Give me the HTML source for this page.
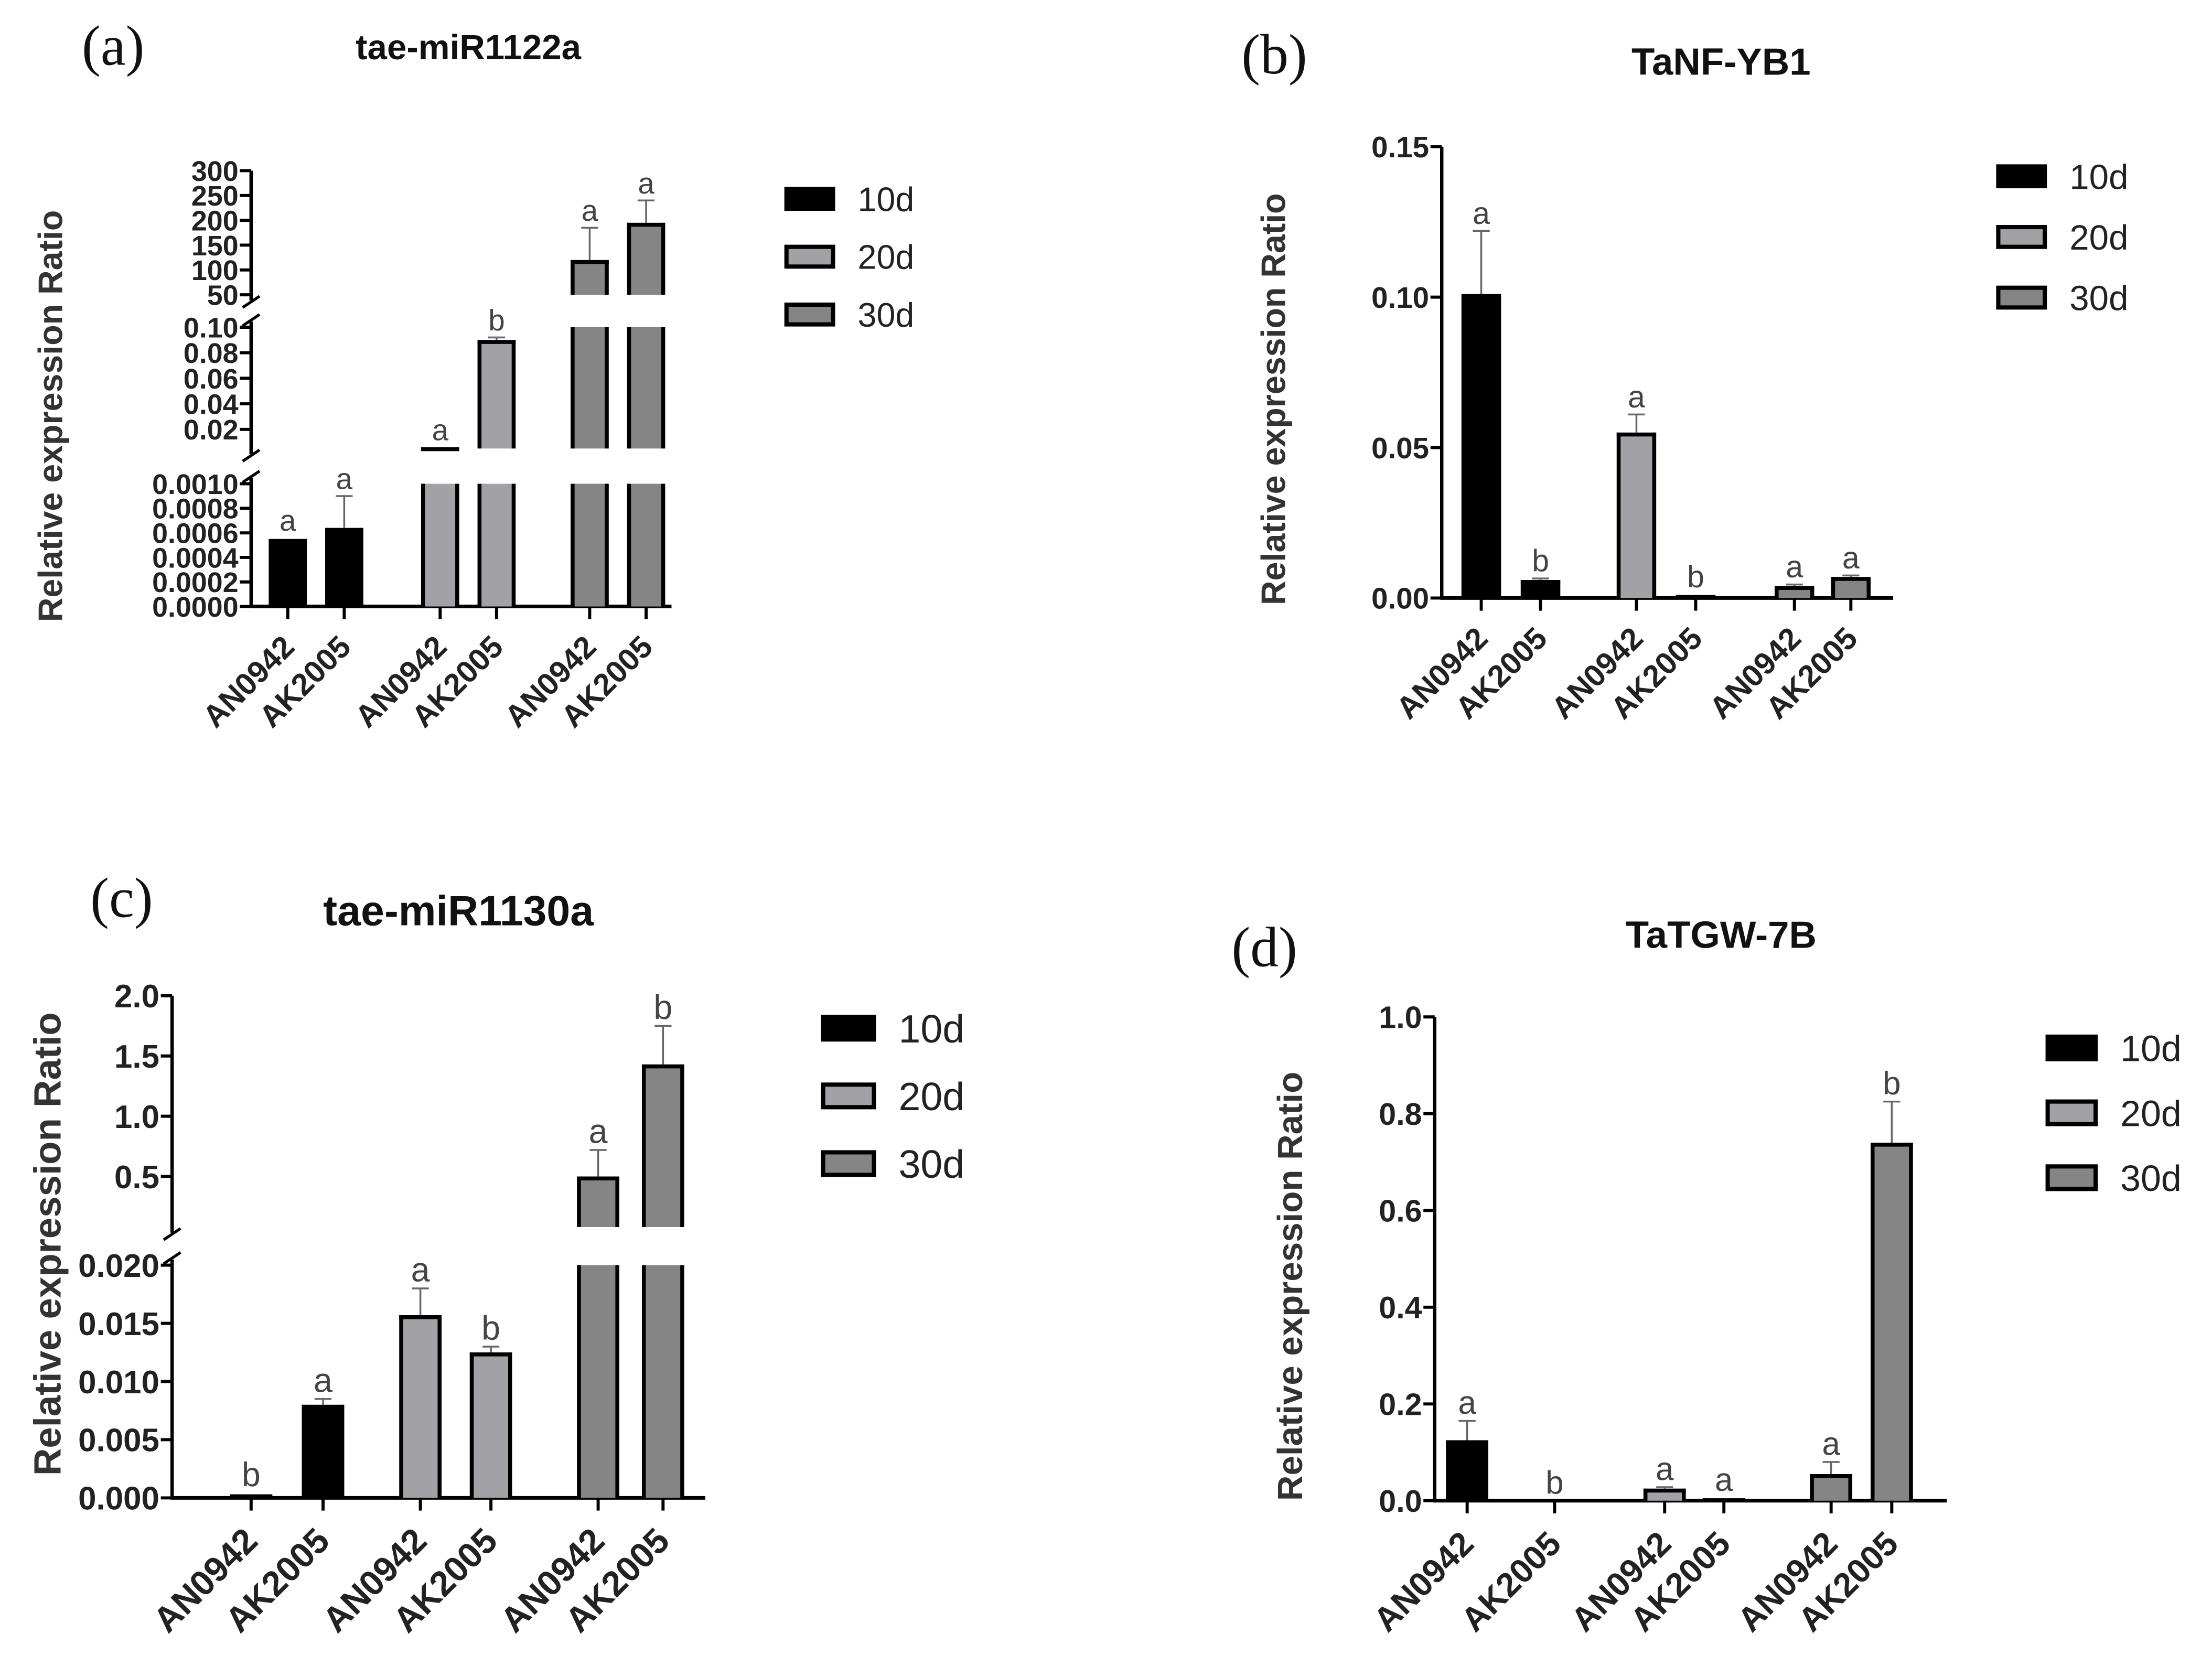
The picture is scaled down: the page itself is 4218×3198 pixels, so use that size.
<!DOCTYPE html>
<html><head><meta charset="utf-8"><style>
html,body{margin:0;padding:0;background:#fff;}
svg{display:block;}
text{font-family:"Liberation Sans",sans-serif;}
</style></head><body>
<svg id="fig" width="4218" height="3198" viewBox="0 0 1568 1189" preserveAspectRatio="none" xmlns="http://www.w3.org/2000/svg"></svg>
<script>
// ---- data ----
const categories = ["AN0942","AK2005","AN0942","AK2005","AN0942","AK2005"];
const seriesGroups = ["10d","10d","20d","20d","30d","30d"];
const valuesA = [0.00055,0.00064,0.006,0.09,120,195];
const errorsA = [0.00056,0.0009,0.006,0.092,185,240];
const lettersA = ["a","a","a","b","a","a"];
const valuesB = [0.101,0.006,0.055,0.001,0.004,0.007];
const errorsB = [0.122,0.0065,0.061,0.0012,0.0045,0.0075];
const lettersB = ["a","b","a","b","a","a"];
const valuesC = [0.0003,0.008,0.0157,0.0125,0.5,1.43];
const errorsC = [0.0004,0.0085,0.018,0.013,0.72,1.75];
const lettersC = ["b","a","a","b","a","b"];
const valuesD = [0.125,0.0,0.025,0.005,0.055,0.74];
const errorsD = [0.165,0.0,0.028,0.006,0.08,0.825];
const lettersD = ["a","b","a","a","a","b"];
const ticksA = [[0,0.0002,0.0004,0.0006,0.0008,0.0010],[0.02,0.04,0.06,0.08,0.10],[50,100,150,200,250,300]];
const tickLabelsA = [["0.0000","0.0002","0.0004","0.0006","0.0008","0.0010"],["0.02","0.04","0.06","0.08","0.10"],["50","100","150","200","250","300"]];
const ticksB = [[0,0.05,0.10,0.15]];
const tickLabelsB = [["0.00","0.05","0.10","0.15"]];
const ticksC = [[0,0.005,0.010,0.015,0.020],[0.5,1.0,1.5,2.0]];
const tickLabelsC = [["0.000","0.005","0.010","0.015","0.020"],["0.5","1.0","1.5","2.0"]];
const ticksD = [[0,0.2,0.4,0.6,0.8,1.0]];
const tickLabelsD = [["0.0","0.2","0.4","0.6","0.8","1.0"]];
const legendLabels = ["10d","20d","30d"];

const colors = {"10d":"#000","20d":"#a2a2a6","30d":"#858585"};
const NS="http://www.w3.org/2000/svg";
const svg=document.getElementById('fig');
function el(tag,attrs,parent,txt){const e=document.createElementNS(NS,tag);for(const k in attrs)e.setAttribute(k,attrs[k]);if(txt!==undefined)e.textContent=txt;(parent||svg).appendChild(e);return e;}

function panel(cfg){
  const g=el('g',{});
  
  
  const segs=cfg.segs;
  function segOf(v){for(let i=segs.length-1;i>=0;i--){if(v>=segs[i].min)return i;}return 0;}
  function y(v,i){const s=segs[i];return s.y0-(v-s.min)/(s.max-s.min)*(s.y0-s.y1);}
  segs.forEach((s,i)=>{
    const top = i<segs.length-1 ? s.y1-4 : s.y1;
    const bot = i>0 ? s.y0+4 : s.y0;
    const l=el('line',{x1:cfg.ax,x2:cfg.ax,y1:top,y2:bot,stroke:'#000','stroke-width':2.4},g);
    
    
    if(i<segs.length-1){el('line',{x1:cfg.ax-6,y1:s.y1-1,x2:cfg.ax+6,y2:s.y1-9,stroke:'#000','stroke-width':2},g);}
    if(i>0){el('line',{x1:cfg.ax-6,y1:s.y0+9,x2:cfg.ax+6,y2:s.y0+1,stroke:'#000','stroke-width':2},g);}
    cfg.ticks[i].forEach((t,j)=>{
      const ty=y(t,i);
      el('line',{x1:cfg.ax-8,x2:cfg.ax,y1:ty,y2:ty,stroke:'#000','stroke-width':2.2},g);
      const tl=el('text',{x:cfg.ax-9,y:ty+cfg.tfs*0.36,'text-anchor':'end','font-size':cfg.tfs,'font-weight':'bold',fill:'#222'},g,cfg.tickLabels[i][j]);
      
      
    });
  });
  const base=segs[0].y0;
  const xl=el('line',{x1:cfg.ax-1,x2:cfg.xend,y1:base,y2:base,stroke:'#000','stroke-width':2.6},g);
  
  
  cfg.values.forEach((v,k)=>{
    const cx=cfg.cx[k],w=cfg.bw,col=colors[seriesGroups[k]];
    const bg=el('g',{},g);
    
    
    const si=segOf(v);
    for(let i=0;i<=si;i++){
      const s=segs[i];
      const topV=Math.min(v,s.max);
      const yt=y(topV,i), yb=s.y0;
      if(yb-yt<0.5){continue;}
      el('rect',{x:cx-w/2,y:yt,width:w,height:yb-yt,fill:col},bg);
      el('line',{x1:cx-w/2+1.4,x2:cx-w/2+1.4,y1:yt,y2:yb,stroke:'#000','stroke-width':2.8},bg);
      el('line',{x1:cx+w/2-1.4,x2:cx+w/2-1.4,y1:yt,y2:yb,stroke:'#000','stroke-width':2.8},bg);
      if(i===si) el('line',{x1:cx-w/2,x2:cx+w/2,y1:yt+1.4,y2:yt+1.4,stroke:'#000','stroke-width':2.8},bg);
    }
    if(v>0 && y(v,si)>=segs[si].y0-0.5){
      el('line',{x1:cx-w/2,x2:cx+w/2,y1:segs[si].y0-1,y2:segs[si].y0-1,stroke:'#000','stroke-width':2.2},bg);
    }
    const e=cfg.errors[k];
    const yv=y(v,si), ye=y(e,si);
    if(yv-ye>1){
      el('line',{x1:cx,x2:cx,y1:yv,y2:ye,stroke:'#666','stroke-width':1.3},bg);
      el('line',{x1:cx-6,x2:cx+6,y1:ye,y2:ye,stroke:'#666','stroke-width':1.3},bg);
    }
    const lt=el('text',{x:cx,y:Math.min(ye,yv)-5,'text-anchor':'middle','font-size':cfg.lfs,fill:'#444'},g,cfg.letters[k]);
    
    
    el('line',{x1:cx,x2:cx,y1:base,y2:base+9,stroke:'#000','stroke-width':2.2},g);
    const tx=cx+6, ty=base+cfg.xlo;
    const xt=el('text',{x:tx,y:ty,'text-anchor':'end','font-size':cfg.xfs,'font-weight':'bold',fill:'#222',transform:`rotate(-45 ${tx} ${ty})`},g,categories[k]);
    
    
  });
  const yt=el('text',{x:cfg.ytx,y:cfg.yty,'text-anchor':'middle','font-size':cfg.yfs,'font-weight':'bold',fill:'#333',transform:`rotate(-90 ${cfg.ytx} ${cfg.yty})`},g,'Relative expression Ratio');
  
  
  const tt=el('text',{x:cfg.tx,y:cfg.ty,'text-anchor':'middle','font-size':cfg.tsz,'font-weight':'bold',fill:'#111'},g,cfg.title);
  
  
  const pl=el('text',{x:cfg.px,y:cfg.py,'font-size':cfg.psz,fill:'#111',style:'font-family:"Liberation Serif",serif'},g,cfg.plabel);
  
  
  legendLabels.forEach((lab,i)=>{
    const ly=cfg.ly+i*cfg.lstep;
    const lg=el('g',{},g);
    
    
    el('rect',{x:cfg.lx+1.5,y:ly-cfg.lh/2+1.5,width:cfg.lw-3,height:cfg.lh-3,fill:colors[lab],stroke:'#000','stroke-width':3},lg);
    el('text',{x:cfg.lx+cfg.lw+16,y:ly+cfg.lfs2*0.36,'font-size':cfg.lfs2,fill:'#222'},lg,lab);
  });
}

panel({name:'panel-a',plabel:'(a)',px:58,py:46,psz:40,title:'tae-miR1122a',tx:332,ty:42,tsz:25,
  ax:178,xend:476,segs:[{min:0,max:0.001,y0:430,y1:343},{min:0.005,max:0.1,y0:318,y1:232},{min:50,max:300,y0:209,y1:121}],
  ticks:ticksA,tickLabels:tickLabelsA,tfs:20,values:valuesA,errors:errorsA,letters:lettersA,
  cx:[204,244,312,352,418,458],bw:27,lfs:21,xfs:22,xlo:30,ytx:44,yty:295,yfs:24,
  lx:556,ly:141,lstep:41,lw:36,lh:17,lfs2:24});
panel({name:'panel-b',plabel:'(b)',px:880,py:52,psz:40,title:'TaNF-YB1',tx:1220,ty:53,tsz:27,
  ax:1022,xend:1342,segs:[{min:0,max:0.15,y0:424,y1:104}],
  ticks:ticksB,tickLabels:tickLabelsB,tfs:21,values:valuesB,errors:errorsB,letters:lettersB,
  cx:[1050,1092,1160,1202,1272,1312],bw:28,lfs:22,xfs:22,xlo:30,ytx:911,yty:283,yfs:24,
  lx:1415,ly:125,lstep:43,lw:36,lh:17,lfs2:25});
panel({name:'panel-c',plabel:'(c)',px:64,py:650,psz:40,title:'tae-miR1130a',tx:325,ty:656,tsz:30,
  ax:122,xend:500,segs:[{min:0,max:0.02,y0:1062,y1:897},{min:0.08,max:2.0,y0:870,y1:706}],
  ticks:ticksC,tickLabels:tickLabelsC,tfs:23,values:valuesC,errors:errorsC,letters:lettersC,
  cx:[178,229,298,348,424,470],bw:30,lfs:24,xfs:25,xlo:32,ytx:43,yty:882,yfs:27,
  lx:582,ly:729,lstep:48,lw:39,lh:19,lfs2:28});
panel({name:'panel-d',plabel:'(d)',px:873,py:685,psz:40,title:'TaTGW-7B',tx:1220,ty:672,tsz:27,
  ax:1017,xend:1380,segs:[{min:0,max:1.0,y0:1064,y1:721}],
  ticks:ticksD,tickLabels:tickLabelsD,tfs:22,values:valuesD,errors:errorsD,letters:lettersD,
  cx:[1040,1102,1180,1222,1298,1341],bw:30,lfs:23,xfs:24,xlo:32,ytx:923,yty:912,yfs:25,
  lx:1450,ly:743,lstep:46,lw:37,lh:19,lfs2:26});
</script>
</body></html>
